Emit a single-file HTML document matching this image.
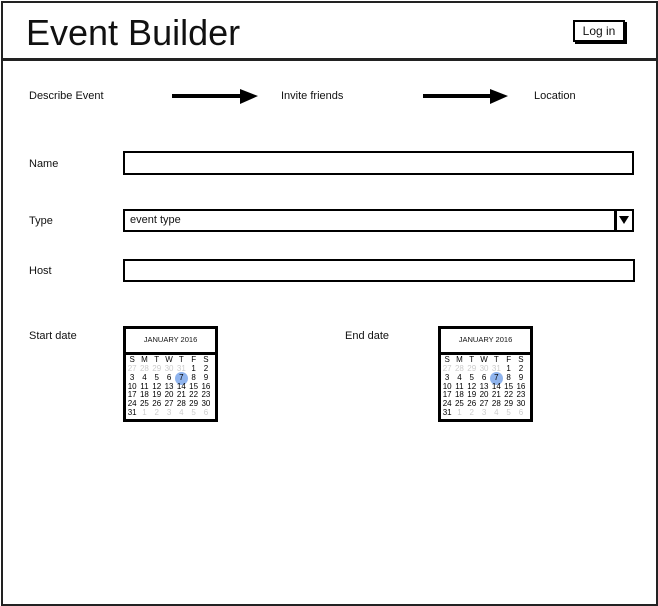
<!DOCTYPE html>
<html><head><style>
body{margin:0;width:658px;height:606px;background:#fff;position:relative;font-family:"Liberation Sans",sans-serif;color:#111;overflow:hidden}
.a{position:absolute}
.t{font-size:11px}
.box{position:absolute;border:2px solid #000;background:#fff;box-sizing:border-box}
.cal{position:absolute;width:95px;height:96px;border:3px solid #000;box-sizing:border-box;font-size:7.5px}
.cal .hd{position:absolute;left:0;top:0;width:89px;height:23px;border-bottom:3px solid #000;text-align:center;line-height:22px;font-size:7.5px}
.cal table{position:absolute;left:0px;top:26px;border-collapse:collapse}
.cal td{width:12.3px;height:8.8px;padding:0;text-align:center;line-height:8.8px;font-size:8px;color:#000}
.cal tr:first-child td{height:10px;line-height:8px}
.cal td.g{color:#ccc}
.cal .hl{position:absolute;width:13px;height:13px;border-radius:50%;background:#8fb4ee;left:49px;top:43px}
</style></head><body>
<div class="a" style="left:1px;top:1px;width:653px;height:601px;border:2px solid #222"></div>
<div class="a" style="left:1px;top:58px;width:655px;height:3px;background:#222"></div>
<div class="a" style="left:26px;top:11px;font-size:36px;line-height:44px">Event Builder</div>
<div class="box" style="left:573px;top:20px;width:52px;height:22px;font-size:12px;text-align:center;line-height:18px;box-shadow:2px 2px 0 #000">Log in</div>
<div class="a t" style="left:29px;top:90px">Describe Event</div>
<div class="a t" style="left:281px;top:90px">Invite friends</div>
<div class="a t" style="left:534px;top:90px">Location</div>
<svg class="a" style="left:0;top:0" width="658" height="130">
<line x1="172" y1="96" x2="248" y2="96" stroke="#000" stroke-width="4"/><path d="M240 89 L258 96 L240 104 Z" fill="#000"/>
<line x1="423" y1="96" x2="498" y2="96" stroke="#000" stroke-width="4"/><path d="M490 89 L508 96 L490 104 Z" fill="#000"/>
</svg>
<div class="a t" style="left:29px;top:158px">Name</div>
<div class="box" style="left:123px;top:151px;width:511px;height:24px"></div>
<div class="a t" style="left:29px;top:215px">Type</div>
<div class="box" style="left:123px;top:209px;width:511px;height:23px;font-size:11px;padding-left:5px;line-height:19px">event type</div>
<div class="a" style="left:614px;top:209px;width:3px;height:23px;background:#000"></div>
<svg class="a" style="left:618px;top:215px" width="12" height="10"><path d="M1 1 L11 1 L6 9 Z" fill="#000"/></svg>
<div class="a t" style="left:29px;top:265px">Host</div>
<div class="box" style="left:123px;top:259px;width:512px;height:23px"></div>
<div class="a t" style="left:29px;top:330px">Start date</div>
<div class="a t" style="left:345px;top:330px">End date</div>

<div class="cal" style="left:123px;top:326px"><div class="hd">JANUARY 2016</div><div class="hl"></div>
<table><tr><td>S</td><td>M</td><td>T</td><td>W</td><td>T</td><td>F</td><td>S</td></tr>
<tr><td class="g">27</td><td class="g">28</td><td class="g">29</td><td class="g">30</td><td class="g">31</td><td>1</td><td>2</td></tr>
<tr><td>3</td><td>4</td><td>5</td><td>6</td><td>7</td><td>8</td><td>9</td></tr>
<tr><td>10</td><td>11</td><td>12</td><td>13</td><td>14</td><td>15</td><td>16</td></tr>
<tr><td>17</td><td>18</td><td>19</td><td>20</td><td>21</td><td>22</td><td>23</td></tr>
<tr><td>24</td><td>25</td><td>26</td><td>27</td><td>28</td><td>29</td><td>30</td></tr>
<tr><td>31</td><td class="g">1</td><td class="g">2</td><td class="g">3</td><td class="g">4</td><td class="g">5</td><td class="g">6</td></tr></table></div>

<div class="cal" style="left:438px;top:326px"><div class="hd">JANUARY 2016</div><div class="hl"></div>
<table><tr><td>S</td><td>M</td><td>T</td><td>W</td><td>T</td><td>F</td><td>S</td></tr>
<tr><td class="g">27</td><td class="g">28</td><td class="g">29</td><td class="g">30</td><td class="g">31</td><td>1</td><td>2</td></tr>
<tr><td>3</td><td>4</td><td>5</td><td>6</td><td>7</td><td>8</td><td>9</td></tr>
<tr><td>10</td><td>11</td><td>12</td><td>13</td><td>14</td><td>15</td><td>16</td></tr>
<tr><td>17</td><td>18</td><td>19</td><td>20</td><td>21</td><td>22</td><td>23</td></tr>
<tr><td>24</td><td>25</td><td>26</td><td>27</td><td>28</td><td>29</td><td>30</td></tr>
<tr><td>31</td><td class="g">1</td><td class="g">2</td><td class="g">3</td><td class="g">4</td><td class="g">5</td><td class="g">6</td></tr></table></div>
</body></html>
